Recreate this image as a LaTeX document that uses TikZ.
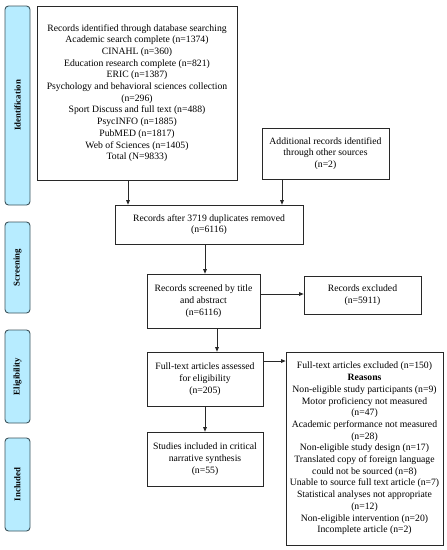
\documentclass[tikz,border=0pt]{standalone}
\usepackage{fontspec}
\setmainfont{Liberation Serif}
\usetikzlibrary{arrows.meta}
\definecolor{phasefill}{RGB}{183,236,255}
\definecolor{phasedraw}{RGB}{60,84,92}
\definecolor{boxdraw}{RGB}{40,40,40}
\tikzset{
  phase/.style={draw=phasedraw, fill=phasefill, rounded corners=3.5pt, line width=0.9pt,
    minimum width=25pt, inner sep=0pt, font=\fontsize{8.8}{10}\selectfont\bfseries},
  flowbox/.style={draw=boxdraw, line width=0.7pt, inner sep=0pt, align=center,
    font=\fontsize{9.7}{11.7}\selectfont},
  arr/.style={-{Triangle[length=4.5pt,width=3.6pt]}, line width=0.7pt, draw=boxdraw}
}
\begin{document}
\begin{tikzpicture}[x=1pt,y=-1pt]
\useasboundingbox[fill=white] (0,0) rectangle (447,550);
% phase labels
\node[phase, minimum height=199pt] (pid) at (17.5,105.5) {\rotatebox{90}{Identification}};
\node[phase, minimum height=91pt] (pscr) at (17.5,267.5) {\rotatebox{90}{Screening}};
\node[phase, minimum height=93pt] (peli) at (17.5,376.5) {\rotatebox{90}{Eligibility}};
\node[phase, minimum height=93pt] (pinc) at (17.5,484.5) {\rotatebox{90}{Included}};
% boxes
\node[flowbox, minimum width=200pt, minimum height=174pt] (box1) at (137,93) {Records identified through database searching\\Academic search complete (n=1374)\\CINAHL (n=360)\\Education research complete (n=821)\\ERIC (n=1387)\\Psychology and behavioral sciences collection\\(n=296)\\Sport Discuss and full text (n=488)\\PsycINFO (n=1885)\\PubMED (n=1817)\\Web of Sciences (n=1405)\\Total (N=9833)};
\node[flowbox, minimum width=127pt, minimum height=51pt] (add) at (325.5,153.5) {Additional records identified\\through other sources\\(n=2)};
\node[flowbox, minimum width=188pt, minimum height=39pt] (dup) at (209,224.5) {Records after 3719 duplicates removed\\(n=6116)};
\node[flowbox, minimum width=113pt, minimum height=54pt] (scrn) at (203.5,301) {Records screened by title\\and abstract\\(n=6116)};
\node[flowbox, minimum width=117pt, minimum height=38pt] (excl) at (362.5,295) {Records excluded\\(n=5911)};
\node[flowbox, minimum width=116pt, minimum height=54pt] (full) at (205,379) {Full-text articles assessed\\for eligibility\\(n=205)};
\node[flowbox, minimum width=157pt, minimum height=193pt] (fexcl) at (364.5,448.5) {Full-text articles excluded (n=150)\\\textbf{Reasons}\\Non-eligible study participants (n=9)\\Motor proficiency not measured\\(n=47)\\Academic performance not measured\\(n=28)\\Non-eligible study design (n=17)\\Translated copy of foreign language\\could not be sourced (n=8)\\Unable to source full text article (n=7)\\Statistical analyses not appropriate\\(n=12)\\Non-eligible intervention (n=20)\\Incomplete article (n=2)};
\node[flowbox, minimum width=116pt, minimum height=54pt] (incl) at (205,459) {Studies included in critical\\narrative synthesis\\(n=55)};
% connectors
\draw[arr] ([xshift=-9pt]box1.south) -- ([xshift=-9pt]box1.south |- dup.north);
\draw[arr] ([xshift=-43.5pt]add.south) -- ([xshift=-43.5pt]add.south |- dup.north);
\draw[arr] ([xshift=-4pt]dup.south) -- ([xshift=-4pt]dup.south |- scrn.north);
\draw[arr] ([yshift=7pt]scrn.east) -- ([yshift=7pt]scrn.east -| excl.west);
\draw[arr] ([xshift=13.5pt]scrn.south) -- ([xshift=13.5pt]scrn.south |- full.north);
\draw[arr] ([yshift=18pt]full.east) -- ([yshift=18pt]full.east -| fexcl.west);
\draw[arr] (full.south) -- (incl.north);
\end{tikzpicture}
\end{document}
